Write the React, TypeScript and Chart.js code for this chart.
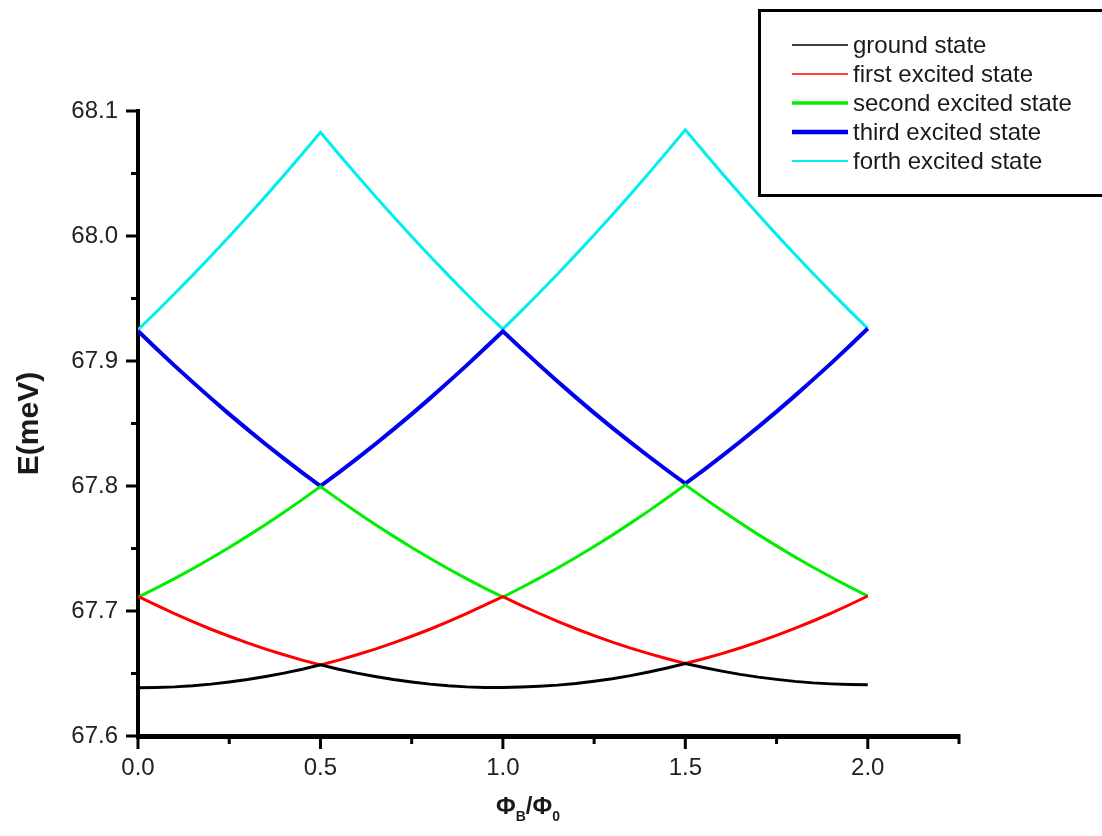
import React, { useEffect, useRef } from "react";
import { Chart, registerables } from "chart.js";
Chart.register(...registerables);

const phi = [
  0, 0.05, 0.1, 0.15, 0.2, 0.25, 0.3, 0.35, 0.4, 0.45, 0.5, 0.55, 0.6, 0.65, 0.7, 0.75, 0.8, 0.85, 0.9, 0.95, 1.0,
  1.05, 1.1, 1.15, 1.2, 1.25, 1.3, 1.35, 1.4, 1.45, 1.5, 1.55, 1.6, 1.65, 1.7, 1.75, 1.8, 1.85, 1.9, 1.95, 2.0,
];
const seriesNames = ["ground state", "first excited state", "second excited state", "third excited state", "forth excited state"];
const ground = [
  67.6386, 67.6388, 67.6393, 67.6402, 67.6415, 67.6432, 67.6452, 67.6476, 67.6503, 67.6534, 67.6569,
  67.6534, 67.6503, 67.6476, 67.6452, 67.6432, 67.6415, 67.6402, 67.6393, 67.6388, 67.6388,
  67.6392, 67.6398, 67.6407, 67.6420, 67.6438, 67.6458, 67.6483, 67.6512, 67.6544, 67.6580,
  67.6548, 67.6519, 67.6493, 67.6471, 67.6453, 67.6437, 67.6425, 67.6417, 67.6412, 67.6410,
];
const first = [
  67.7118, 67.7047, 67.6979, 67.6915, 67.6854, 67.6798, 67.6745, 67.6695, 67.6650, 67.6607, 67.6569,
  67.6607, 67.6650, 67.6695, 67.6745, 67.6798, 67.6854, 67.6915, 67.6979, 67.7047, 67.7115,
  67.7045, 67.6980, 67.6917, 67.6858, 67.6803, 67.6751, 67.6703, 67.6659, 67.6618, 67.6580,
  67.6618, 67.6659, 67.6704, 67.6753, 67.6805, 67.6861, 67.6920, 67.6983, 67.7050, 67.7120,
];
const second = [
  67.7110, 67.7183, 67.7259, 67.7338, 67.7422, 67.7508, 67.7599, 67.7692, 67.7790, 67.7891, 67.7995,
  67.7891, 67.7790, 67.7692, 67.7599, 67.7508, 67.7422, 67.7338, 67.7259, 67.7183, 67.7112,
  67.7186, 67.7263, 67.7344, 67.7428, 67.7516, 67.7607, 67.7703, 67.7801, 67.7904, 67.8010,
  67.7905, 67.7804, 67.7706, 67.7611, 67.7521, 67.7433, 67.7350, 67.7270, 67.7193, 67.7120,
];
const third = [
  67.9240, 67.9100, 67.8963, 67.8831, 67.8701, 67.8575, 67.8453, 67.8334, 67.8219, 67.8107, 67.7999,
  67.8107, 67.8219, 67.8334, 67.8453, 67.8575, 67.8701, 67.8831, 67.8963, 67.9100, 67.9238,
  67.9101, 67.8967, 67.8836, 67.8709, 67.8585, 67.8465, 67.8349, 67.8236, 67.8126, 67.8020,
  67.8127, 67.8239, 67.8354, 67.8473, 67.8595, 67.8721, 67.8851, 67.8983, 67.9120, 67.9260,
];
const fourth = [
  67.9250, 67.9392, 67.9538, 67.9687, 67.9840, 67.9996, 68.0156, 68.0319, 68.0486, 68.0656, 68.0830,
  68.0656, 68.0486, 68.0319, 68.0156, 67.9996, 67.9840, 67.9687, 67.9538, 67.9392, 67.9255,
  67.9399, 67.9546, 67.9696, 67.9851, 68.0008, 68.0170, 68.0334, 68.0503, 68.0675, 68.0850,
  68.0676, 68.0504, 68.0336, 68.0172, 68.0011, 67.9854, 67.9700, 67.9550, 67.9403, 67.9260,
];
const seriesValues = [ground, first, second, third, fourth];

const colors = ["#000000", "#ff0000", "#00ee00", "#0000ee", "#00eeee"];
const lineWidths = [3, 3, 3, 4, 3];
const legendWidths = [1.5, 1.5, 3.5, 4.5, 2];

const FONT = '"Liberation Sans", Arial, sans-serif';

const isMultiple = (v: number, step: number) => Math.abs(v / step - Math.round(v / step)) < 1e-6;

const tickMarks = {
  id: "tickMarks",
  afterDraw(chart: any) {
    const ctx = chart.ctx;
    const xs = chart.scales.x;
    const ys = chart.scales.y;
    ctx.save();
    ctx.strokeStyle = "#000";
    ctx.lineWidth = 3;
    xs.ticks.forEach((t: any) => {
      const px = xs.getPixelForValue(t.value);
      const len = isMultiple(t.value, 0.5) ? 13 : 8;
      ctx.beginPath();
      ctx.moveTo(px, xs.top - 2);
      ctx.lineTo(px, xs.top + len);
      ctx.stroke();
    });
    ys.ticks.forEach((t: any) => {
      const py = ys.getPixelForValue(t.value);
      const len = isMultiple(t.value - 67.6, 0.1) ? 12 : 7;
      ctx.beginPath();
      ctx.moveTo(ys.right + 2, py);
      ctx.lineTo(ys.right - len, py);
      ctx.stroke();
    });
    ctx.restore();
  },
};

const legendBox = {
  id: "legendBox",
  afterDraw(chart: any) {
    const ctx = chart.ctx;
    ctx.save();
    ctx.strokeStyle = "#000";
    ctx.lineWidth = 3;
    ctx.strokeRect(759.5, 10.5, 400, 185);
    ctx.font = `24px ${FONT}`;
    ctx.textBaseline = "middle";
    ctx.fillStyle = "#1a1a1a";
    chart.data.datasets.forEach((ds: any, i: number) => {
      const y = 45 + i * 29;
      ctx.strokeStyle = ds.borderColor;
      ctx.lineWidth = legendWidths[i];
      ctx.beginPath();
      ctx.moveTo(792, y);
      ctx.lineTo(848, y);
      ctx.stroke();
      ctx.fillText(ds.label, 853, y + 1);
    });
    ctx.restore();
  },
};

const xTitle = {
  id: "xTitle",
  afterDraw(chart: any) {
    const ctx = chart.ctx;
    ctx.save();
    ctx.fillStyle = "#1a1a1a";
    ctx.textBaseline = "alphabetic";
    const big = `bold 24px ${FONT}`;
    const small = `bold 14px ${FONT}`;
    const parts = [
      { t: "\u03A6", f: big, dy: 0 },
      { t: "B", f: small, dy: 7 },
      { t: "/", f: big, dy: 0 },
      { t: "\u03A6", f: big, dy: 0 },
      { t: "0", f: small, dy: 7 },
    ];
    let total = 0;
    parts.forEach((p) => {
      ctx.font = p.f;
      total += ctx.measureText(p.t).width;
    });
    let x = 528 - total / 2;
    const base = 814;
    parts.forEach((p) => {
      ctx.font = p.f;
      ctx.fillText(p.t, x, base + p.dy);
      x += ctx.measureText(p.t).width;
    });
    ctx.restore();
  },
};

export default function App() {
  const ref = useRef<HTMLCanvasElement | null>(null);
  useEffect(() => {
    if (!ref.current) return;
    const chart = new Chart(ref.current, {
      type: "line",
      data: {
        datasets: seriesValues.map((vals, i) => ({
          label: seriesNames[i],
          data: phi.map((x, j) => ({ x, y: vals[j] })),
          borderColor: colors[i],
          backgroundColor: colors[i],
          borderWidth: lineWidths[i],
          pointRadius: 0,
          tension: 0,
          fill: false,
        })),
      },
      options: {
        responsive: false,
        animation: false,
        devicePixelRatio: 1,
        layout: { padding: { top: 111, right: 143, left: 0, bottom: 0 } },
        plugins: { legend: { display: false }, tooltip: { enabled: false }, title: { display: false } },
        scales: {
          x: {
            type: "linear",
            min: 0,
            max: 2.25,
            afterFit: (s: any) => { s.height = 100; },
            border: { display: true, color: "#000", width: 5 },
            grid: { display: true, drawOnChartArea: false, drawTicks: false },
            ticks: {
              stepSize: 0.25,
              autoSkip: false,
              maxRotation: 0,
              padding: 18,
              color: "#222",
              font: { family: FONT, size: 24 },
              callback: (v: any) => (isMultiple(Number(v), 0.5) ? Number(v).toFixed(1) : ""),
            },
          },
          y: {
            type: "linear",
            min: 67.6,
            max: 68.1,
            afterFit: (s: any) => { s.width = 138; },
            border: { display: true, color: "#000", width: 4 },
            grid: { display: true, drawOnChartArea: false, drawTicks: false },
            title: {
              display: true,
              text: "E(meV)",
              color: "#1a1a1a",
              font: { family: FONT, size: 30, weight: "bold" },
              padding: { top: 12, bottom: 0 },
            },
            ticks: {
              stepSize: 0.05,
              autoSkip: false,
              padding: 20,
              color: "#222",
              font: { family: FONT, size: 24 },
              callback: (v: any) => (isMultiple(Number(v) - 67.6, 0.1) ? Number(v).toFixed(1) : ""),
            },
          },
        },
      },
      plugins: [tickMarks, legendBox, xTitle],
    });
    return () => chart.destroy();
  }, []);
  return (
    <div style={{ position: "fixed", left: 0, top: 0, width: 1102, height: 836, background: "#fff" }}>
      <canvas ref={ref} width={1102} height={836} />
    </div>
  );
}
